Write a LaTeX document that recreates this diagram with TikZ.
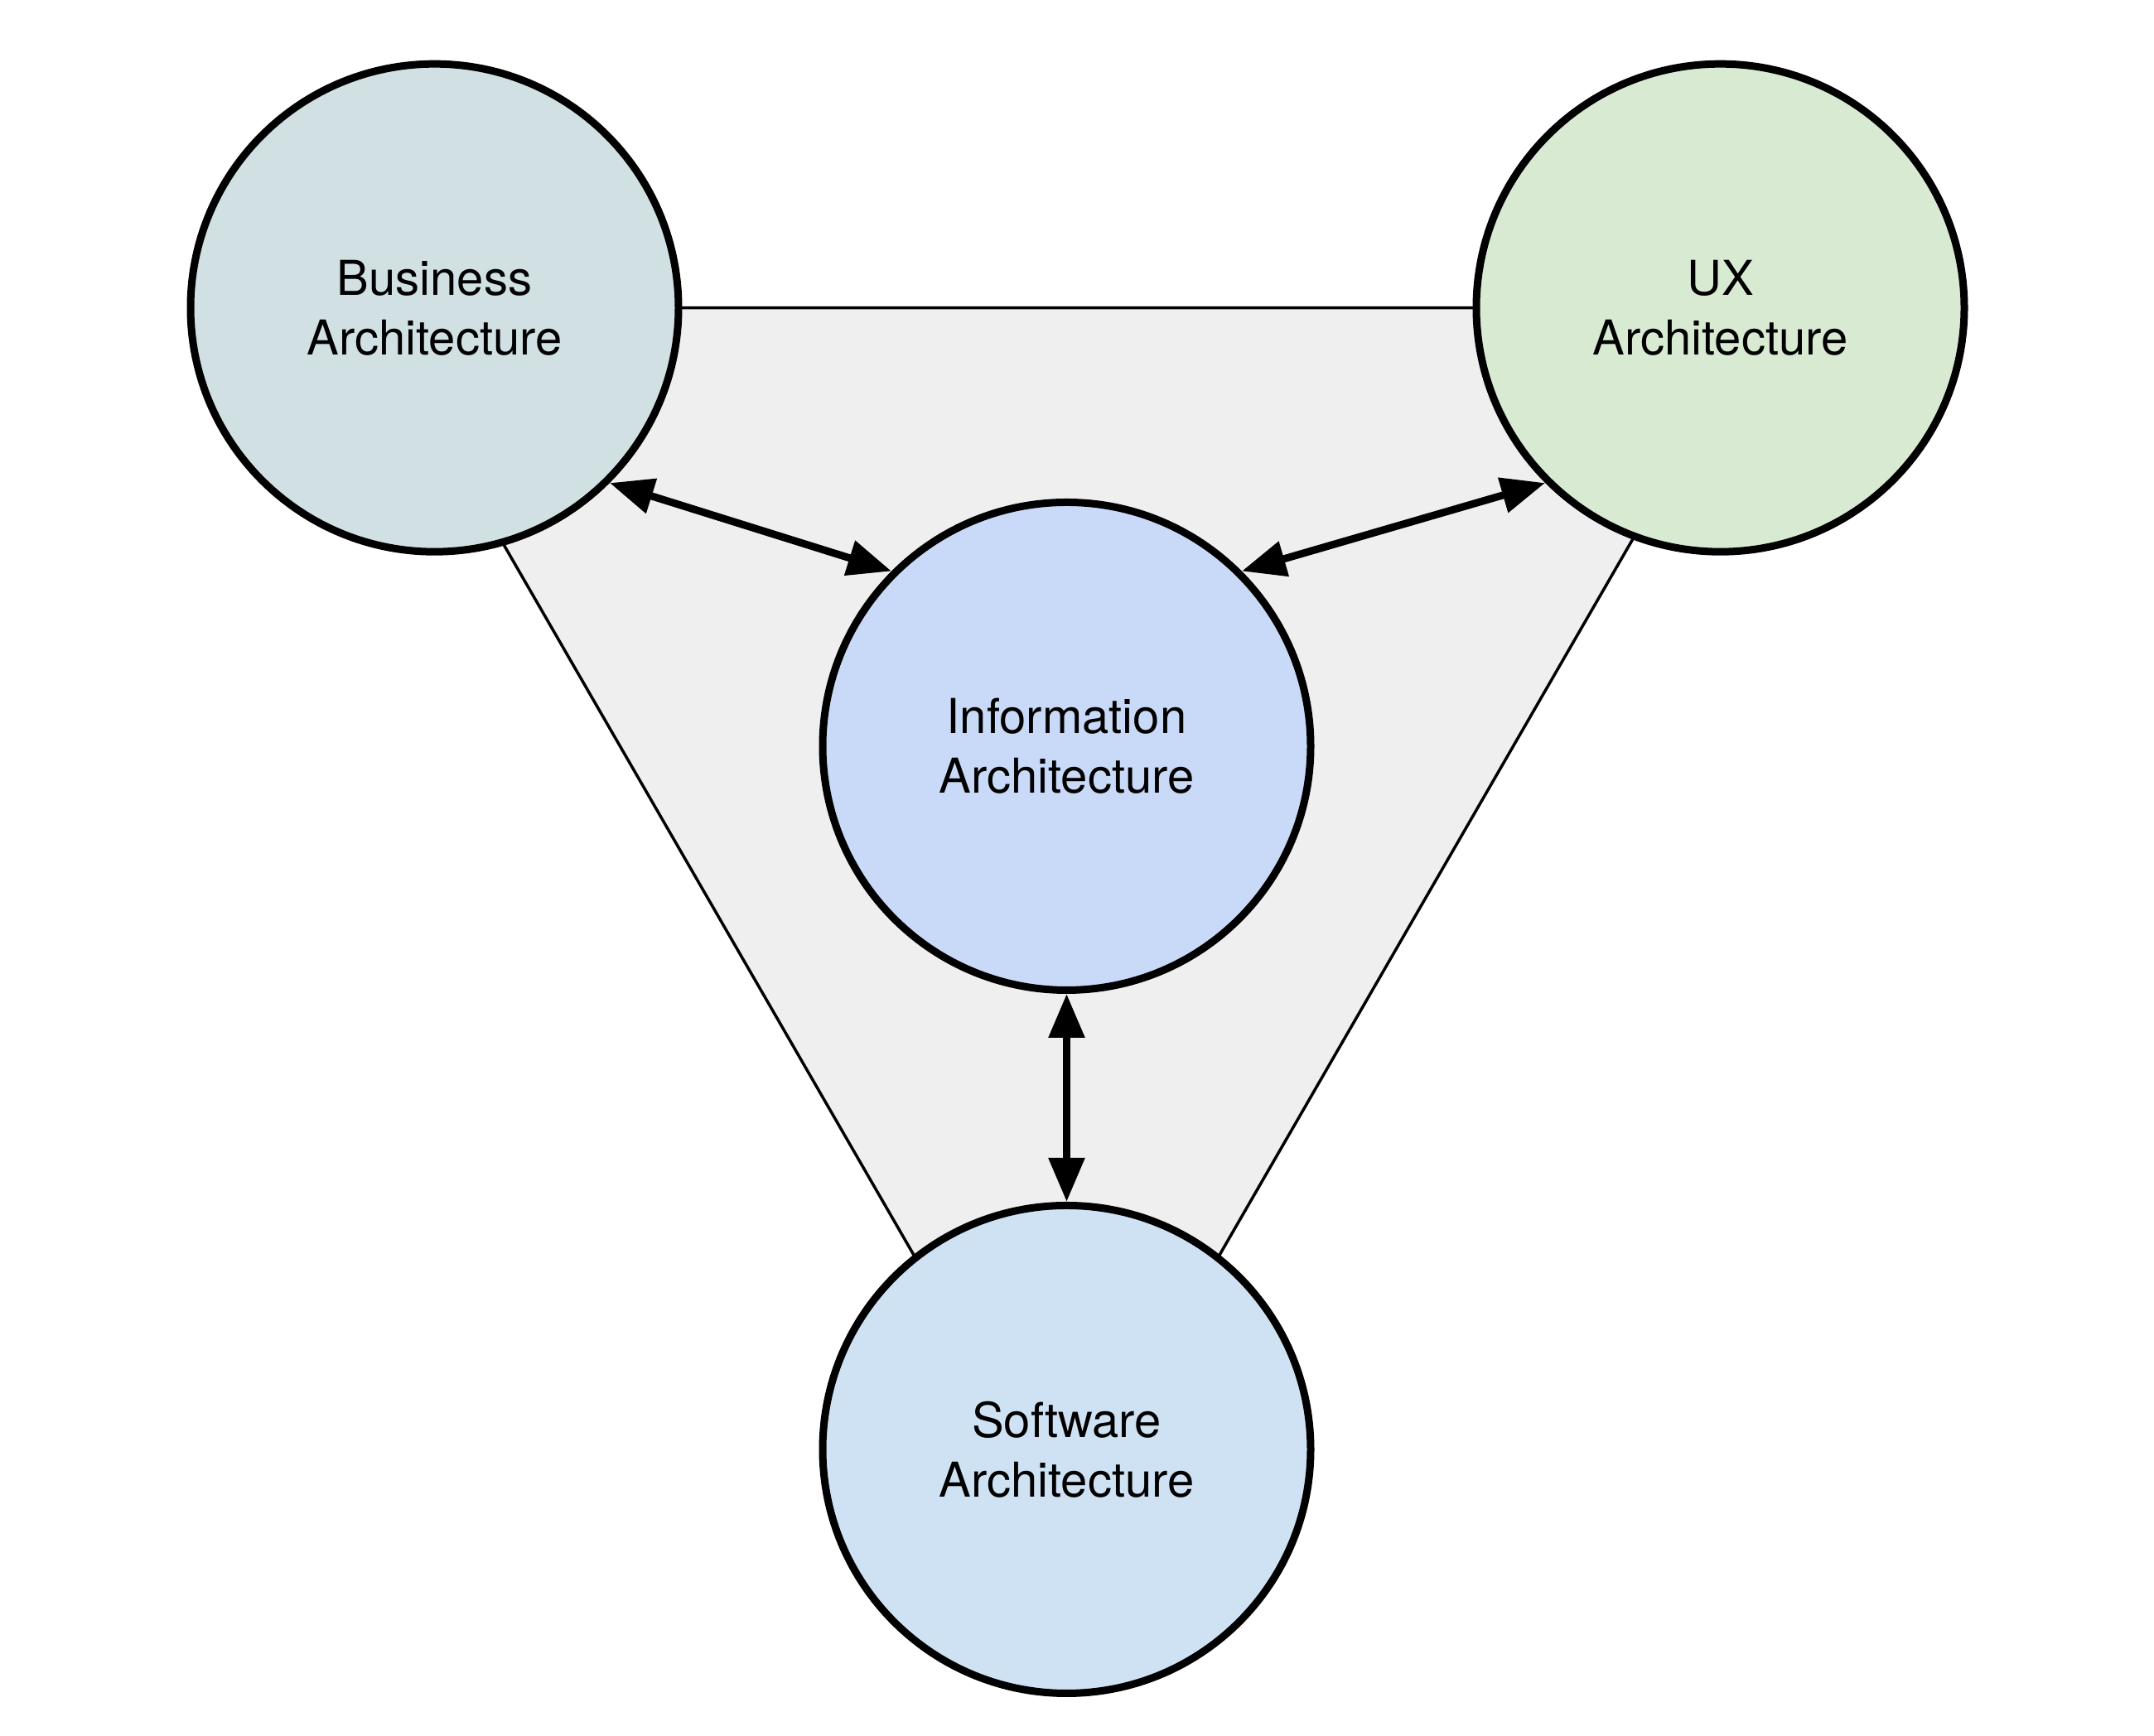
\documentclass[tikz,border=0pt]{standalone}
\usepackage{fontspec}
\setmainfont{TeX Gyre Heros}
\usetikzlibrary{arrows.meta,backgrounds}
\definecolor{BizFill}{HTML}{D0E0E3}
\definecolor{UxFill}{HTML}{D9EAD3}
\definecolor{InfoFill}{HTML}{C9DAF8}
\definecolor{SoftFill}{HTML}{CFE2F3}
\definecolor{ZoneGray}{HTML}{EFEFEF}
\tikzset{
	arch/.style={circle,draw=black,line width=0.09cm,minimum size=5.89cm,inner sep=0pt,
		align=center,font=\fontsize{16.5}{20.5}\selectfont},
	link/.style={draw=black,line width=0.09cm,
		{Triangle[length=0.53cm,width=0.42cm]}-{Triangle[length=0.53cm,width=0.42cm]}},
	zone/.style={draw=black,line width=0.035cm,fill=ZoneGray},
}

\begin{document}
\begin{tikzpicture}
			\useasboundingbox (0,0) rectangle (26,20.96);
			\coordinate (zl) at (4.43,17.243);
			\coordinate (zr) at (21.32,17.243);
			\coordinate (zb) at (12.875,2.61);
			\node[arch,fill=BizFill] (biz) at (5.245,17.243) {Business\\Architecture};
			\node[arch,fill=UxFill] (ux) at (20.765,17.243) {UX\\Architecture};
			\node[arch,fill=InfoFill] (info) at (12.875,11.95) {Information\\Architecture};
			\node[arch,fill=SoftFill] (soft) at (12.875,3.46) {Software\\Architecture};
			% grey field behind the outer circles
			\begin{pgfonlayer}{background}
			\draw[zone] (zl) -- (zr) -- (zb) -- cycle;
			\end{pgfonlayer}
			\foreach \a/\b in {biz.-45/info.135,ux.-135/info.45,info.south/soft.north}
			\draw[link] (\a) -- (\b);
		\end{tikzpicture}
\end{document}
